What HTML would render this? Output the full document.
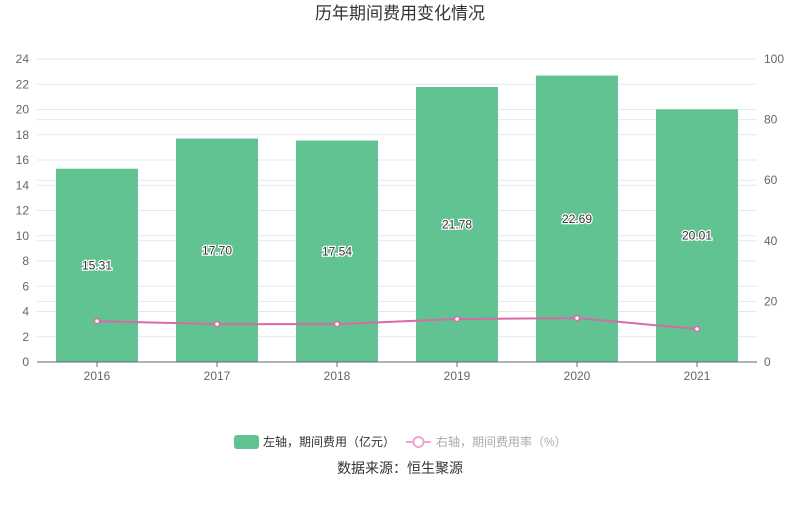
<!DOCTYPE html>
<html><head><meta charset="utf-8"><style>
body{margin:0;background:#fff;}
svg text{font-family:"Liberation Sans","Noto Sans CJK SC",sans-serif;}
</style></head><body>
<svg id="c" width="800" height="501" xmlns="http://www.w3.org/2000/svg">
<text x="400" y="19" text-anchor="middle" font-size="17" fill="#333">历年期间费用变化情况</text>
<g id="grid"></g><g id="bars"></g><g id="line"></g><g id="axes"></g><g id="labels"></g>
<g>
<rect x="234" y="435" width="25" height="14" rx="3" fill="#61c391"/>
<text x="263" y="446" font-size="12" fill="#333">左轴，期间费用（亿元）</text>
<line x1="406" y1="442" x2="431" y2="442" stroke="#e8a8cf" stroke-width="2"/>
<circle cx="418.5" cy="442" r="5" fill="#fff" stroke="#e8a8cf" stroke-width="2"/>
<text x="436" y="446" font-size="12" fill="#aaa">右轴，期间费用率（%）</text>
</g>
<text x="400" y="473" text-anchor="middle" font-size="14" fill="#333">数据来源：恒生聚源</text>
</svg>
<script>
const categories=["2016","2017","2018","2019","2020","2021"];
const expenseValues=[15.31,17.70,17.54,21.78,22.69,20.01];
const rateValues=[13.5,12.5,12.5,14.2,14.5,10.9];
const leftTicks=[0,2,4,6,8,10,12,14,16,18,20,22,24];
const rightTicks=[0,20,40,60,80,100];
const NS="http://www.w3.org/2000/svg";
const X0=37,X1=757,Y0=362,Y1=59;
const band=(X1-X0)/categories.length;
const xC=i=>X0+band*(i+0.5);
const yL=v=>Y0-(v/24)*(Y0-Y1);
const yR=v=>Y0-(v/100)*(Y0-Y1);
function mk(t,a,p){const e=document.createElementNS(NS,t);for(const k in a)e.setAttribute(k,a[k]);p.appendChild(e);return e;}
const grid=document.getElementById('grid'),axes=document.getElementById('axes');
leftTicks.forEach(v=>{
 const l=mk('line',{x1:X0,x2:X1,y1:yL(v),y2:yL(v),stroke:'#e3e7f0'},grid);
 
 
 const t=mk('text',{x:29,y:yL(v)+4,'text-anchor':'end','font-size':12,fill:'#666'},axes);
 t.textContent=v;
 
 
});
rightTicks.forEach(v=>{
 if(v>0){const l=mk('line',{x1:X0,x2:X1,y1:yR(v),y2:yR(v),stroke:'#e3e7f0'},grid);
 
 }
 const t=mk('text',{x:764,y:yR(v)+4,'font-size':12,fill:'#666'},axes);
 t.textContent=v;
 
 
});
const ax=mk('line',{x1:X0,x2:X1,y1:Y0,y2:Y0,stroke:'#666'},axes);


const bars=document.getElementById('bars'),labels=document.getElementById('labels');
categories.forEach((c,i)=>{
 const bw=82;
 const r=mk('rect',{x:xC(i)-bw/2,y:yL(expenseValues[i]),width:bw,height:Y0-yL(expenseValues[i]),fill:'#61c391'},bars);
 
 
 const tk=mk('line',{x1:xC(i),x2:xC(i),y1:Y0,y2:Y0+5,stroke:'#666'},axes);
 
 
 const t=mk('text',{x:xC(i),y:Y0+18,'text-anchor':'middle','font-size':12,fill:'#666'},axes);
 t.textContent=c;
 
 
 const lb=mk('text',{x:xC(i),y:(yL(expenseValues[i])+Y0)/2+4,'text-anchor':'middle','font-size':12,fill:'#333',stroke:'#fff','stroke-width':2.5,'paint-order':'stroke'},labels);
 lb.textContent=expenseValues[i].toFixed(2);
 
 
});
const lg=document.getElementById('line');
const pl=mk('polyline',{points:rateValues.map((v,i)=>xC(i)+','+yR(v)).join(' '),fill:'none',stroke:'#d96aa8','stroke-width':2},lg);


rateValues.forEach((v,i)=>{
 const p=mk('circle',{cx:xC(i),cy:yR(v),r:2.5,fill:'#fff',stroke:'#d96aa8','stroke-width':1.5},lg);
 
 
});
</script>
</body></html>
